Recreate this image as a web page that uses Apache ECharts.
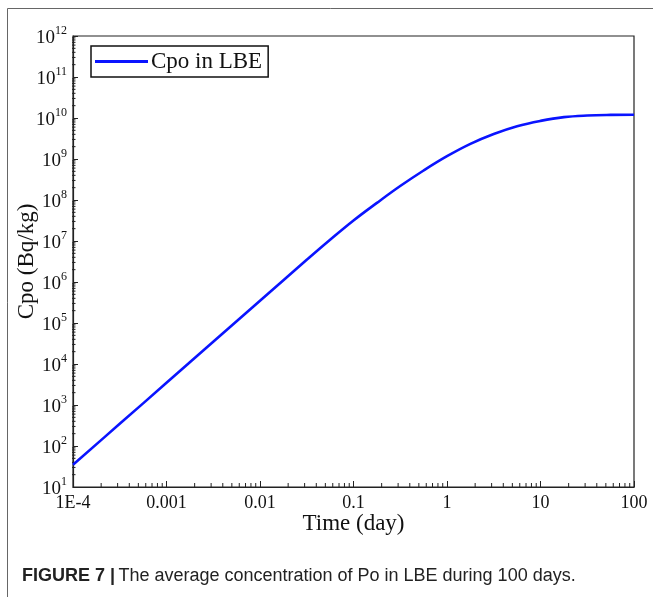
<!DOCTYPE html>
<html>
<head>
<meta charset="utf-8">
<script src="https://cdn.jsdelivr.net/npm/echarts@6/dist/echarts.min.js"></script>
<style>
  html, body { margin: 0; padding: 0; background: #fff; }
  #chart { width: 653px; height: 597px; }
</style>
</head>
<body>
<div id="chart"></div>
<script>
// time (day) and Po concentration (Bq/kg)
var timeDays = [1e-4, 3.16e-4, 1e-3, 3.16e-3, 1e-2, 0.0178, 0.0316, 0.0562, 0.1, 0.178, 0.316, 0.562,
  1, 1.78, 3.16, 5.62, 10, 17.8, 31.6, 56.2, 100];
var cpo = [35, 347, 3470, 3.47e4, 3.47e5, 1.1e6, 3.47e6, 1.07e7, 3.16e7, 8.5e7, 2.19e8, 5.25e8,
  1.17e9, 2.34e9, 4.07e9, 6.3e9, 8.5e9, 1.05e10, 1.15e10, 1.19e10, 1.2e10];
var xTickLabels = ['1E-4', '0.001', '0.01', '0.1', '1', '10', '100'];
var seriesName = 'Cpo in LBE';

var serif = '"Liberation Serif", "DejaVu Serif", serif';
var chartDom = document.getElementById('chart');
var myChart = echarts.init(chartDom);
var option;

option = {
  animation: false,
  backgroundColor: '#fff',
  grid: {
    left: 73, right: 19, top: 36, bottom: 110,
    outerBoundsMode: 'none',
    show: true, borderColor: '#222', borderWidth: 1.2
  },
  legend: {
    data: [seriesName],
    left: 91, top: 46,
    orient: 'vertical',
    icon: 'rect',
    borderColor: '#111', borderWidth: 1.5,
    padding: [4, 6, 4, 4],
    itemWidth: 53, itemHeight: 3, itemGap: 0,
    textStyle: { fontFamily: serif, fontSize: 23, color: '#111', padding: [0, 0, 0, -2] }
  },
  xAxis: {
    type: 'log',
    logBase: 10,
    min: 1e-4, max: 100,
    name: 'Time (day)',
    nameLocation: 'middle',
    nameGap: 25,
    nameMoveOverlap: false,
    nameTextStyle: { fontFamily: serif, fontSize: 23, color: '#111' },
    axisLine: { lineStyle: { color: '#222', width: 1.2 } },
    axisTick: { inside: true, length: 6, lineStyle: { color: '#222' } },
    axisLabel: {
      fontFamily: serif, fontSize: 18, color: '#111', margin: 7,
      formatter: function (v) {
        return xTickLabels[Math.round(Math.log10(v)) + 4];
      }
    },
    splitLine: { show: false }
  },
  yAxis: {
    type: 'log',
    logBase: 10,
    min: 10, max: 1e12,
    interval: 1,
    name: 'Cpo (Bq/kg)',
    nameLocation: 'middle',
    nameGap: 35,
    nameMoveOverlap: false,
    nameTextStyle: { fontFamily: serif, fontSize: 23, color: '#111' },
    axisLine: { lineStyle: { color: '#222', width: 1.2 } },
    axisTick: { inside: true, length: 5, lineStyle: { color: '#222' } },
    axisLabel: {
      margin: 6,
      formatter: function (v) {
        return '{b|10}{s|' + Math.round(Math.log10(v)) + '}';
      },
      rich: {
        b: { fontFamily: serif, fontSize: 19, color: '#111', padding: [4, 0, 0, 0] },
        s: { fontFamily: serif, fontSize: 12, color: '#111', padding: [0, 0, 11, 0] }
      }
    },
    splitLine: { show: false }
  },
  series: [{
    name: seriesName,
    type: 'line',
    data: timeDays.map(function (t, i) { return [t, cpo[i]]; }),
    symbol: 'none',
    smooth: 0.4,
    lineStyle: { color: '#0a14ff', width: 2.6 },
    itemStyle: { color: '#0a14ff' }
  }]
};

option && myChart.setOption(option);

// log-spaced minor ticks (2..9 in each decade), placed through the chart's own scales
var ticks = [];
var k, m, p, q;
for (k = -4; k < 2; k++) {
  for (m = 2; m <= 9; m++) {
    p = myChart.convertToPixel({ gridIndex: 0 }, [m * Math.pow(10, k), 10]);
    ticks.push({ type: 'line', shape: { x1: p[0], y1: p[1], x2: p[0], y2: p[1] - 4 },
      style: { stroke: '#222', lineWidth: 1 }, silent: true });
  }
}
for (k = 1; k < 12; k++) {
  for (m = 2; m <= 9; m++) {
    q = myChart.convertToPixel({ gridIndex: 0 }, [1e-4, m * Math.pow(10, k)]);
    ticks.push({ type: 'line', shape: { x1: q[0] - 1, y1: q[1], x2: q[0] + 2.5, y2: q[1] },
      style: { stroke: '#222', lineWidth: 1 }, silent: true });
  }
}

// outer figure frame and caption
var capFont = '"Liberation Sans", Arial, sans-serif';
var decor = [
  { type: 'line', shape: { x1: 7.5, y1: 8.5, x2: 653, y2: 8.5 }, style: { stroke: '#666', lineWidth: 1 } },
  { type: 'line', shape: { x1: 7.5, y1: 8.5, x2: 7.5, y2: 597 }, style: { stroke: '#666', lineWidth: 1 } },
  {
    type: 'text', left: 22, top: 567,
    style: {
      text: '{bold|FIGURE 7 |} {reg|The average concentration of Po in LBE during 100 days.}',
      rich: {
        bold: { fontFamily: capFont, fontSize: 18, fontWeight: 'bold', fill: '#222' },
        reg: { fontFamily: capFont, fontSize: 18, fill: '#222' }
      }
    }
  }
];

myChart.setOption({ graphic: decor.concat(ticks) });
</script>
</body>
</html>
